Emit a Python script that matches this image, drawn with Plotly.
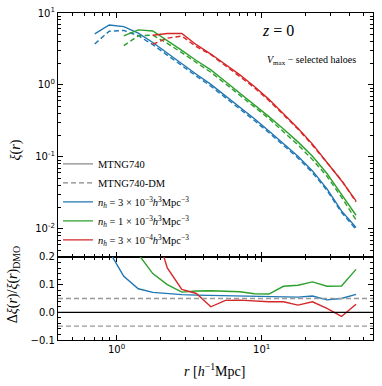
import plotly.graph_objects as go
from plotly.subplots import make_subplots

# radial bins [h^-1 Mpc]
r_bins = [0.708, 0.891, 1.122, 1.413, 1.778, 2.239, 2.818, 3.548, 4.467, 5.623,
          7.079, 8.913, 11.22, 14.13, 17.78, 22.39, 28.18, 35.48, 44.67]

# n_h = 3e-3 (blue), starts at first bin
xi_blue = [5.13, 6.82, 6.46, 5.25, 3.89, 2.75, 1.95, 1.41, 1.02, 0.71,
           0.49, 0.34, 0.23, 0.155, 0.102, 0.064, 0.036, 0.0178, 0.0105]
xi_blue_dm = [3.72, 5.59, 5.72, 4.84, 3.63, 2.58, 1.83, 1.33, 0.961, 0.670,
              0.463, 0.321, 0.217, 0.1465, 0.0967, 0.0604, 0.0344, 0.01695, 0.00986]
dxi_blue = [0.38, 0.22, 0.13, 0.085, 0.072, 0.067, 0.064, 0.062, 0.061, 0.060,
            0.059, 0.059, 0.059, 0.058, 0.055, 0.059, 0.045, 0.050, 0.065]

# n_h = 1e-3 (green), starts at third bin
xi_green = [4.82, 5.83, 5.62, 4.17, 3.02, 2.19, 1.62, 1.12, 0.776, 0.537,
            0.363, 0.245, 0.162, 0.102, 0.0589, 0.0302, 0.0155]
xi_green_dm = [3.52, 4.82, 4.93, 3.79, 2.81, 2.03, 1.50, 1.04, 0.723, 0.503,
               0.341, 0.224, 0.1475, 0.0919, 0.0538, 0.0276, 0.0134]
dxi_green = [0.37, 0.21, 0.14, 0.10, 0.073, 0.077, 0.078, 0.076, 0.074, 0.067,
             0.066, 0.094, 0.098, 0.11, 0.094, 0.095, 0.155]

# n_h = 3e-4 (red), starts at fifth bin
xi_red = [4.9, 5.19, 5.19, 3.63, 2.69, 1.95, 1.38, 0.955, 0.631, 0.398,
          0.251, 0.151, 0.0851, 0.0468, 0.0245]
xi_red_dm = [3.68, 4.47, 4.79, 3.40, 2.64, 1.87, 1.32, 0.917, 0.608, 0.383,
             0.245, 0.1455, 0.0839, 0.0475, 0.0238]
dxi_red = [0.33, 0.16, 0.083, 0.068, 0.02, 0.043, 0.044, 0.041, 0.038, 0.038,
           0.026, 0.038, 0.014, -0.015, 0.029]

samples = [
    ("#1f77b4", r_bins, xi_blue, xi_blue_dm, dxi_blue,
     "<i>n<sub>h</sub></i> = 3 × 10<sup>−3</sup><i>h</i><sup>3</sup>Mpc<sup>−3</sup>"),
    ("#2ca02c", r_bins[2:], xi_green, xi_green_dm, dxi_green,
     "<i>n<sub>h</sub></i> = 1 × 10<sup>−3</sup><i>h</i><sup>3</sup>Mpc<sup>−3</sup>"),
    ("#d62728", r_bins[4:], xi_red, xi_red_dm, dxi_red,
     "<i>n<sub>h</sub></i> = 3 × 10<sup>−4</sup><i>h</i><sup>3</sup>Mpc<sup>−3</sup>"),
]

SERIF = "Liberation Serif"
DASH = "5px,3px"

fig = make_subplots(rows=2, cols=1, shared_xaxes=True, vertical_spacing=0,
                    row_heights=[0.746, 0.254])

# legend-only entries for the line styles
fig.add_trace(go.Scatter(x=[None], y=[None], mode="lines", name="MTNG740",
                         line=dict(color="#888888", width=1.4)), row=1, col=1)
fig.add_trace(go.Scatter(x=[None], y=[None], mode="lines", name="MTNG740-DM",
                         line=dict(color="#888888", width=1.4, dash=DASH)), row=1, col=1)

for color, r, xi, xi_dm, dxi, label in samples:
    fig.add_trace(go.Scatter(x=r, y=xi, mode="lines", name=label,
                             line=dict(color=color, width=1.4)), row=1, col=1)
    fig.add_trace(go.Scatter(x=r, y=xi_dm, mode="lines", showlegend=False,
                             line=dict(color=color, width=1.4, dash=DASH)), row=1, col=1)
    fig.add_trace(go.Scatter(x=r, y=dxi, mode="lines", showlegend=False,
                             line=dict(color=color, width=1.4)), row=2, col=1)

fig.add_hline(y=0, line=dict(color="black", width=1.3), row=2, col=1)
fig.add_hline(y=0.05, line=dict(color="#999999", width=1.4, dash=DASH), row=2, col=1)
fig.add_hline(y=-0.05, line=dict(color="#999999", width=1.4, dash=DASH), row=2, col=1)

log_minor = [m * 10 ** e for e in range(-3, 2) for m in range(2, 10)]
axis_common = dict(showline=True, linecolor="black", linewidth=1.2, mirror="allticks",
                   ticks="inside", ticklen=5, tickwidth=1, tickcolor="black",
                   showgrid=False, zeroline=False, automargin=False)

x_common = dict(axis_common, type="log", range=[-0.403, 1.767],
                tickmode="array", tickvals=[1, 10],
                ticktext=["10<sup>0</sup>", "10<sup>1</sup>"],
                minor=dict(tickmode="array", tickvals=log_minor, ticks="inside",
                           ticklen=3, tickcolor="black", showgrid=False))
fig.update_xaxes(x_common, showticklabels=False, row=1, col=1)
fig.update_xaxes(x_common, showticklabels=True, row=2, col=1)

fig.update_yaxes(axis_common, type="log", range=[-2.389, 1], row=1, col=1,
                 tickmode="array", tickvals=[0.01, 0.1, 1, 10],
                 ticktext=["10<sup>-2</sup>", "10<sup>-1</sup>", "10<sup>0</sup>", "10<sup>1</sup>"],
                 minor=dict(tickmode="array", tickvals=log_minor, ticks="inside",
                            ticklen=3, tickcolor="black", showgrid=False))
fig.update_yaxes(axis_common, range=[-0.1, 0.2], row=2, col=1,
                 tickmode="array", tickvals=[-0.1, 0, 0.1, 0.2],
                 ticktext=["−0.1", "0.0", "0.1", "0.2"],
                 minor=dict(dtick=0.02, ticks="inside", ticklen=3,
                            tickcolor="black", showgrid=False))

note = dict(xref="paper", yref="paper", showarrow=False,
            xanchor="center", yanchor="middle")

fig.update_layout(
    width=382, height=386,
    margin=dict(l=58, r=9, t=13, b=46),
    paper_bgcolor="white", plot_bgcolor="white",
    font=dict(family="DejaVu Sans", size=10, color="black"),
    showlegend=True,
    legend=dict(x=0.0, y=0.262, xanchor="left", yanchor="bottom",
                bgcolor="rgba(0,0,0,0)", font=dict(family=SERIF, size=10.5),
                itemwidth=30),
    annotations=[
        dict(note, text="<i>ξ</i>(<i>r</i>)", x=-0.133, y=0.58, textangle=-90,
             font=dict(family=SERIF, size=14)),
        dict(note, text="Δ<i>ξ</i>(<i>r</i>)/<i>ξ</i>(<i>r</i>)<sub>DMO</sub>",
             x=-0.14, y=0.17, textangle=-90, font=dict(family=SERIF, size=14)),
        dict(note, text="<i>r</i> [<i>h</i><sup>−1</sup>Mpc]", x=0.498, y=-0.092,
             font=dict(family=SERIF, size=14)),
        dict(note, text="<i>z</i> = 0", x=0.699, y=0.948,
             font=dict(family=SERIF, size=16)),
        dict(note, text="<i>V</i><sub>max</sub> − selected haloes", x=0.806, y=0.856,
             font=dict(family=SERIF, size=10)),
    ],
)

# drop the default page margin so the figure sits at the window origin
fig.write_html("out.html", config={"displayModeBar": False},
               post_script="document.body.style.margin='0';")
